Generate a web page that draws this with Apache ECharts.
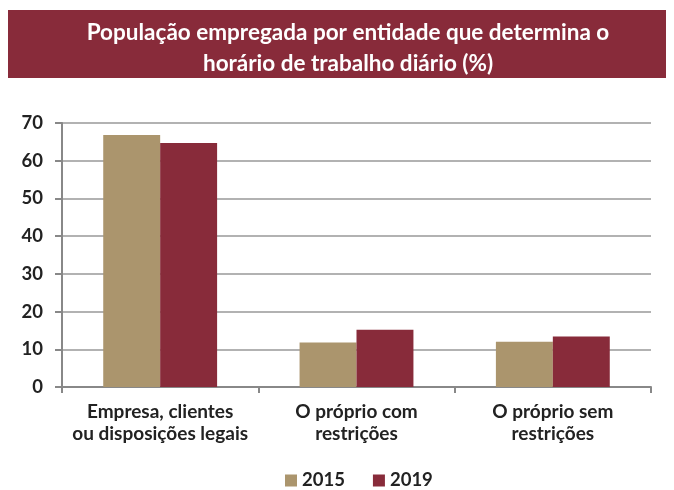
<!DOCTYPE html>
<html>
<head>
<meta charset="utf-8">
<script src="https://cdn.jsdelivr.net/npm/echarts@6/dist/echarts.min.js"></script>
<style>
  html, body { margin: 0; padding: 0; background: #fff; }
  #chart { width: 674px; height: 490px; }
</style>
</head>
<body>
<div id="chart"></div>
<script>
var categories = [
    "Empresa, clientes\nou disposições legais",
    "O próprio com\nrestrições",
    "O próprio sem\nrestrições"
];
var values2015 = [66.8, 11.8, 12.0];
var values2019 = [64.7, 15.2, 13.4];
var yTicks = { min: 0, max: 70, interval: 10 };

var FONT = "Lato";
var chart = echarts.init(document.getElementById("chart"));
chart.setOption({
    animation: false,
    graphic: [{
        type: "rect",
        shape: { x: 8, y: 10, width: 658, height: 68 },
        style: { fill: "#882b3a" },
        z: 0
    }],
    title: {
        text: "População empregada por entidade que determina o\nhorário de trabalho diário (%)",
        left: 343,
        textAlign: "center",
        top: 12,
        textStyle: {
            color: "#fff",
            fontFamily: FONT,
            fontWeight: "bold",
            fontSize: 22.5,
            lineHeight: 31
        }
    },
    legend: {
        bottom: -5,
        left: 280,
        icon: "rect",
        itemWidth: 12,
        itemHeight: 12,
        itemGap: 28,
        textStyle: { fontFamily: FONT, fontWeight: "bold", fontSize: 18.5, color: "#222" },
        data: ["2015", "2019"]
    },
    grid: { left: 62, right: 23, top: 123, bottom: 103 },
    xAxis: {
        type: "category",
        data: categories,
        axisLine: { lineStyle: { color: "#888", width: 2 } },
        axisTick: { show: true, length: 6, lineStyle: { color: "#888", width: 2 } },
        axisLabel: {
            interval: 0,
            margin: 14,
            fontFamily: FONT,
            fontWeight: "bold",
            fontSize: 19,
            lineHeight: 22,
            color: "#222"
        }
    },
    yAxis: {
        type: "value",
        min: yTicks.min,
        max: yTicks.max,
        interval: yTicks.interval,
        axisLine: { show: true, lineStyle: { color: "#888", width: 2 } },
        axisTick: { show: true, length: 7, lineStyle: { color: "#888", width: 2 } },
        splitLine: { lineStyle: { color: "#999", width: 1.5 } },
        axisLabel: {
            margin: 19,
            fontFamily: FONT,
            fontWeight: "bold",
            fontSize: 18.5,
            color: "#222"
        }
    },
    series: [{
        name: "2015",
        type: "bar",
        data: values2015,
        barGap: "0%",
        barCategoryGap: "42%",
        itemStyle: { color: "#ab956d" }
    }, {
        name: "2019",
        type: "bar",
        data: values2019,
        itemStyle: { color: "#882b3a" }
    }]
});
</script>
</body>
</html>
